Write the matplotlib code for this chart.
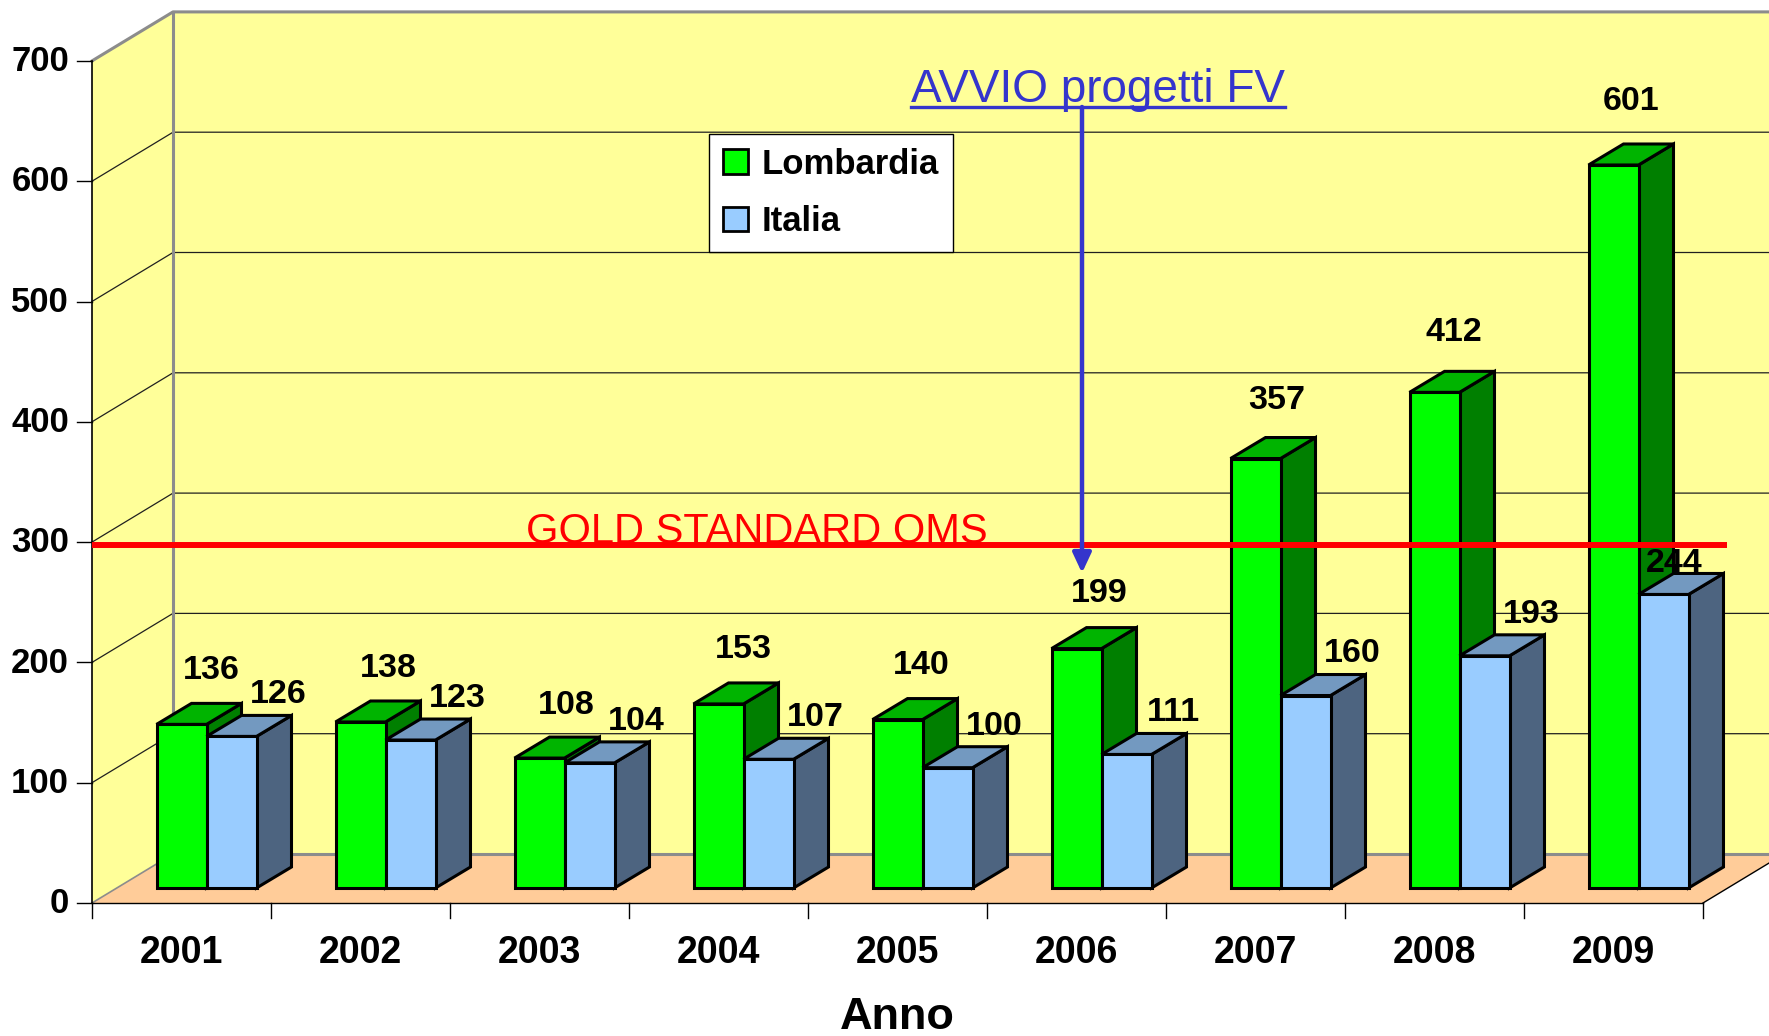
import numpy as np
import matplotlib.pyplot as plt
from matplotlib.patches import Polygon, Patch

plt.rcParams["font.family"] = ["Liberation Sans", "DejaVu Sans"]

# Values
years = ["2001", "2002", "2003", "2004", "2005", "2006", "2007", "2008", "2009"]
lombardia = [136, 138, 108, 153, 140, 199, 357, 412, 601]
italia = [126, 123, 104, 107, 100, 111, 160, 193, 244]
y_ticks = [0, 100, 200, 300, 400, 500, 600, 700]
gold_standard = 298

# Pixel geometry of the Excel-like 3D frame (x unit = one category)
W, H = 1769, 1036
PX_X, PX_V = 179.0, 1.203   # px per category, px per value unit
X0_PX, V0_PX = 92, 903       # front origin in pixels

dX, dV = 81 / PX_X, 49 / PX_V          # wall depth
fX, fV = 25 / PX_X, 15 / PX_V          # bars front offset
bX, bV = 35 / PX_X, 21 / PX_V          # bar depth
bar_w = 50 / PX_X
vmax = 700
right = 20

yellow = "#FFFF99"
floor_c = "#FFCC99"
gray = "#8C8C8C"
colors = {
    "Lombardia": ("#00FF00", "#00B400", "#007F00"),
    "Italia": ("#99CCFF", "#7399C0", "#4D6480"),
}

fig = plt.figure(figsize=(W / 100, H / 100), dpi=100)
ax = fig.add_axes([0, 0, 1, 1])
ax.set_xlim(-X0_PX / PX_X, (W - X0_PX) / PX_X)
ax.set_ylim((V0_PX - H) / PX_V, V0_PX / PX_V)
ax.axis("off")

# walls and floor
n = len(years)
ax.add_patch(Polygon([(0, 0), (0, vmax), (dX, vmax + dV), (dX, dV)],
                     facecolor=yellow, edgecolor="none", zorder=0))
ax.add_patch(Polygon([(dX, dV), (right, dV), (right, vmax + dV), (dX, vmax + dV)],
                     facecolor=yellow, edgecolor="none", zorder=0))
ax.add_patch(Polygon([(0, 0), (n, 0), (n + dX, dV), (dX, dV)],
                     facecolor=floor_c, edgecolor="none", zorder=0))

for v in y_ticks[1:-1]:
    ax.plot([0, dX, right], [v, v + dV, v + dV], color="#202020", lw=0.9, zorder=1)

ax.plot([0, dX, right], [vmax, vmax + dV, vmax + dV], color=gray, lw=2.2, zorder=1)
ax.plot([dX, dX], [dV, vmax + dV], color=gray, lw=2.2, zorder=1)
ax.plot([dX, right], [dV, dV], color=gray, lw=2.2, zorder=1)
ax.plot([0, dX], [0, dV], color=gray, lw=1.2, zorder=1)
ax.plot([0, 0], [0, vmax], color="black", lw=1.2, zorder=1)
ax.plot([0, n], [0, 0], color="black", lw=1.0, zorder=1)
ax.plot([n, n + dX], [0, dV], color="black", lw=1.0, zorder=1)

# ticks and tick labels
tick_len_x = 15 / PX_X
tick_len_v = 15 / PX_V
for v in y_ticks:
    ax.plot([-tick_len_x, 0], [v, v], color="black", lw=1.0)
    ax.text(-23 / PX_X, v - 8.5, str(v), ha="right", va="baseline",
            fontsize=25, fontweight="bold")
for k in range(n + 1):
    ax.plot([k, k], [0, -tick_len_v], color="black", lw=1.0)
for k, yr in enumerate(years):
    ax.text(k + 0.5, -50, yr, ha="center", va="baseline",
            fontsize=27, fontweight="bold")
ax.text(n / 2, -105, "Anno", ha="center", va="baseline",
        fontsize=32.5, fontweight="bold")


def draw_bar(x0, val, front, top, side):
    x1 = x0 + bar_w
    y0, y1 = fV, fV + val
    kw = dict(edgecolor="black", lw=2.2, joinstyle="miter", zorder=3)
    ax.add_patch(Polygon([(x1, y0), (x1 + bX, y0 + bV), (x1 + bX, y1 + bV), (x1, y1)],
                         facecolor=side, **kw))
    ax.add_patch(Polygon([(x0, y1), (x1, y1), (x1 + bX, y1 + bV), (x0 + bX, y1 + bV)],
                         facecolor=top, **kw))
    ax.add_patch(Polygon([(x0, y0), (x1, y0), (x1, y1), (x0, y1)],
                         facecolor=front, **kw))


for k in range(n):
    xl = k + 0.5 - bar_w + fX
    draw_bar(xl, lombardia[k], *colors["Lombardia"])
    draw_bar(xl + bar_w, italia[k], *colors["Italia"])
    ax.text(xl + bar_w / 2 + 0.165 - 0.008 * k, lombardia[k] * 1.018 + 47.5,
            str(lombardia[k]), ha="center", va="baseline",
            fontsize=24.5, fontweight="bold", zorder=5)
    # last label sits tucked under the red line in the original
    dx_i, dv_i = (0.26, 40) if k < n - 1 else (0.06, 31)
    ax.text(xl + 1.5 * bar_w + dx_i, italia[k] + dv_i, str(italia[k]),
            ha="center", va="baseline", fontsize=24.5, fontweight="bold", zorder=5)

# gold standard line
ax.text((526 - X0_PX) / PX_X, gold_standard + 1, "GOLD STANDARD OMS", color="red",
        fontsize=30, ha="left", va="baseline", zorder=6)
ax.plot([0, (1727 - X0_PX) / PX_X], [gold_standard, gold_standard],
        color="red", lw=4.3, solid_capstyle="butt", zorder=7)

# annotation with arrow
blue = "#3535CC"
t = ax.text((1098 - X0_PX) / PX_X, (V0_PX - 102) / PX_V, "AVVIO progetti FV",
            color=blue, fontsize=33, ha="center", va="baseline", zorder=8)
fig.canvas.draw()
bb = t.get_window_extent()
inv = ax.transData.inverted()
ux0 = inv.transform((bb.x0, bb.y0))[0]
ux1 = inv.transform((bb.x1, bb.y0))[0]
uv = (V0_PX - 107) / PX_V
ax.plot([ux0, ux1], [uv, uv], color=blue, lw=2.4, zorder=8)
ax_x = (1082 - X0_PX) / PX_X
ax.annotate("", xy=(ax_x, (V0_PX - 573) / PX_V), xytext=(ax_x, uv),
            arrowprops=dict(arrowstyle="-|>,head_length=0.6,head_width=0.28",
                            color=blue, lw=3.2, mutation_scale=20,
                            shrinkA=0, shrinkB=0),
            zorder=8)

# legend
handles = [Patch(facecolor=colors[s][0], edgecolor="black", lw=2) for s in colors]
leg = ax.legend(handles, list(colors), loc="upper left",
                bbox_to_anchor=(709 / W, 1 - 134 / H), bbox_transform=fig.transFigure,
                prop={"weight": "bold", "size": 25}, frameon=True, fancybox=False,
                edgecolor="black", framealpha=1, handlelength=0.72, handleheight=0.72,
                handletextpad=0.4, labelspacing=0.7, borderpad=0.4, borderaxespad=0)
leg.get_frame().set_linewidth(1.0)
leg.set_zorder(9)

fig.savefig("out.png", dpi=100)
